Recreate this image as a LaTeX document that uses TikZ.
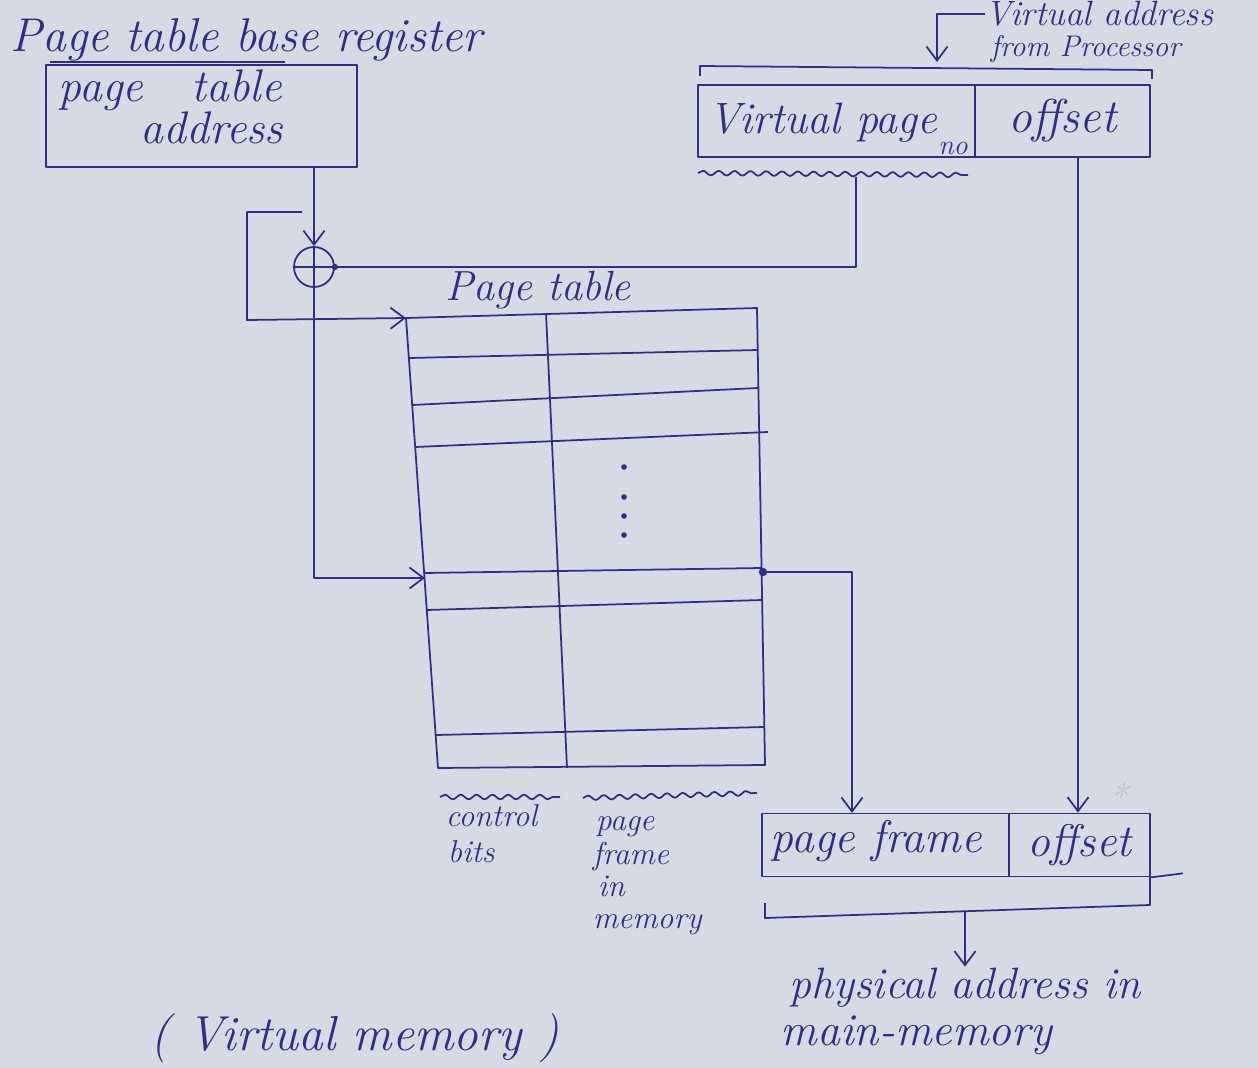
\documentclass[tikz,border=0pt]{standalone}
\usetikzlibrary{arrows.meta,decorations.pathmorphing}
\definecolor{ink}{RGB}{46,46,138}
\definecolor{paper}{RGB}{214,218,226}
\begin{document}
\begin{tikzpicture}[x=0.02cm,y=-0.02cm,
  line width=1pt, draw=ink, line join=round,
  >={Straight Barb[length=8pt,width=12pt]},
  hand/.style={text=ink, font=\itshape\fontsize{#1}{#1}\selectfont, inner sep=0pt},
  hand/.default=26,
  box/.style={draw=ink, rectangle, inner sep=0pt},
  wave/.style={decorate, decoration={snake, amplitude=1.3pt, segment length=9pt}},
  inkdot/.style={fill=ink}]
% canvas
\fill[paper] (0,0) rectangle (1258,1068);
\useasboundingbox (0,0) rectangle (1258,1068);

% ---- Page table base register ----
\node[hand=27, anchor=base west] (ptbrtitle) at (10,52) {Page table base register};
\draw (50,62) -- (285,62);
\node[box, minimum width=6.22cm, minimum height=2.04cm] (ptbr) at (201.5,116) {};
\node[hand=26, anchor=base west] (ptbrt1) at (58,102) {page \ \ table};
\node[hand=26, anchor=base west] (ptbrt2) at (140,144) {address};

% ---- adder ----
\node[circle, draw=ink, minimum size=0.8cm, inner sep=0pt] (adder) at (314,267) {};
\draw (adder.west) -- (adder.east);
\draw (adder.north) -- (adder.south);
\draw[->] (adder |- ptbr.south) -- (adder.north);

% loop from base address straight to the table start
\coordinate (loopstart) at (302,212);
\coordinate (loopA) at (247,212);
\coordinate (loopB) at (247,320);

% ---- page table ----
\node[hand=24, anchor=base west] (pttitle) at (445,300) {Page table};
\coordinate (TL) at (406,318);
\coordinate (TR) at (757,308);
\coordinate (BR) at (765,765);
\coordinate (BL) at (438,768);
\draw (TL) -- (TR) -- (BR) -- (BL) -- cycle;
\draw (546,313) -- (567,768);
\draw (409,358) -- (758,350);
\draw (412,405) -- (758,388);
\draw (415,447) -- (768,432);
\draw (424,573) -- (762,568);
\draw (427,610) -- (762,600);
\draw (436,735) -- (764,727);
\foreach \yy in {467,497,516,535} \fill[ink] (624,\yy) circle (1.6pt);
\coordinate (rowin) at (425,578);
\coordinate (rowout) at (763,572);
\fill[ink] (rowout) circle (2.4pt);

\draw[->] (loopstart) -- (loopA) -- (loopB) -- (TL);
\draw[->] (adder.south) |- (rowin);

% ---- virtual address from processor ----
\node[hand=20, anchor=base west] (valabel1) at (985,26) {Virtual address};
\node[hand=17, anchor=base west] (valabel2) at (990,57) {from Processor};
\coordinate (vaarr) at (937,62);
\draw[->] (valabel1.west) -| (vaarr);
\draw (700,76) -- (700,66) -- (1152,70) -- (1152,79);
\node[box, minimum width=5.54cm, minimum height=1.44cm] (vpage) at (836.5,121) {};
\node[hand=25, anchor=base west] (vpagetext) at (708,133) {Virtual page};
\node[box, minimum width=3.5cm, minimum height=1.44cm, hand=27] (voff) at (1062.5,121) {offset};
\node[hand=16, anchor=base] (vno) at (953,154) {no};
\draw[wave] (698,173) -- (968,175);
\coordinate (wavemid) at (856,177);
\draw (wavemid) |- (adder.east);
\fill[ink] (adder.east) circle (1.8pt);

% ---- physical address ----
\node[box, minimum width=4.94cm, minimum height=1.26cm] (pf) at (885.5,845) {};
\node[hand=26, anchor=base west] (pftext) at (770,852) {page frame};
\node[box, minimum width=2.82cm, minimum height=1.26cm, hand=26] (poff) at (1079.5,845) {offset};
\draw (poff.south east) -- ++(32,-4);
\node[hand=22, text=ink!30] (star) at (1118,797) {*};
\coordinate (pfin) at (852,813);
\draw[->] (rowout) -| (pfin);
\coordinate (offtop) at (1078,157);
\draw[->] (offtop) -- (offtop |- poff.north);

\coordinate (brL) at (765,903);
\coordinate (brR) at (1150,874);
\draw (brL) -- (765,918) -- (1150,905) -- (brR);
\coordinate (brmid) at (965,912);
\node[hand=25, anchor=base] (phys1) at (965,998) {physical address in};
\node[hand=26, anchor=base west] (phys2) at (780,1045) {main-memory};
\draw[->] (brmid) -- (brmid |- phys1.north);

% ---- labels under table ----
\draw[wave] (440,797) -- (560,797);
\draw[wave] (583,798) -- (757,793);
\node[hand=18, anchor=base west] (cb1) at (445,826) {control};
\node[hand=18, anchor=base west] (cb2) at (447,862) {bits};
\node[hand=18, anchor=base west] (pfm1) at (595,830) {page};
\node[hand=18, anchor=base west] (pfm2) at (592,864) {frame};
\node[hand=18, anchor=base west] (pfm3) at (597,896) {in};
\node[hand=18, anchor=base west] (pfm4) at (592,928) {memory};

% ---- bottom note ----
\node[hand=28, anchor=base west] (vmem) at (150,1050) {( Virtual memory )};
\end{tikzpicture}
\end{document}
